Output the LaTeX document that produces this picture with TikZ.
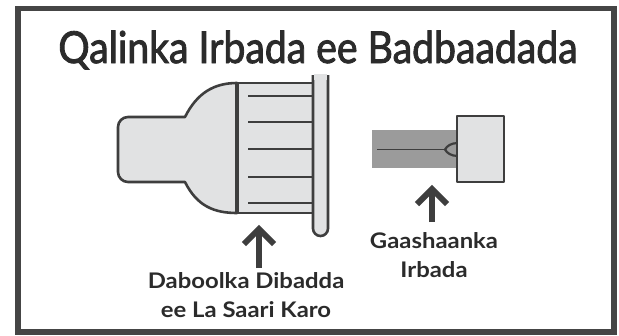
\documentclass[tikz,border=0pt]{standalone}
\usepackage{fontspec}
\setmainfont{Lato}
\usetikzlibrary{calc}
\begin{document}
\begin{tikzpicture}[x=1pt,y=-1pt,
  ink/.style={draw=inkgray,line width=2.6pt,line join=round},
  part/.style={ink,fill=partgray},
  pointer/.style={draw=inkgray,line width=6pt,line join=miter},
  caption/.style={font=\fontsize{21.5}{29}\selectfont\bfseries\addfontfeatures{FakeStretch=1.11},
    text=textgray,align=center,inner sep=0pt}]
\definecolor{inkgray}{HTML}{3E3E3E}
\definecolor{partgray}{HTML}{E1E2E3}
\definecolor{bargray}{HTML}{9B9B9B}
\definecolor{textgray}{HTML}{2B2B2B}
\definecolor{framegray}{HTML}{454545}
\useasboundingbox (0,0) rectangle (619,335);
\fill[white] (0,0) rectangle (619,335);
% outer frame
\draw[framegray,line width=5.5pt] (18,8.5) rectangle (614,332);
% title
\node[font=\fontsize{44}{50}\selectfont\addfontfeatures{FakeStretch=0.89,FakeBold=2},
  text=textgray,anchor=base,inner sep=0pt] (title) at (318,63) {Qalinka Irbada ee Badbaadada};

% cap: nozzle and flared body
\path[part] (185,117) [rounded corners=10pt] -- (118,117) -- (118,182) [sharp corners] -- (185,182)
  .. controls (197,206) and (214,213) .. (237,213) -- (237,83)
  .. controls (214,83) and (197,93) .. cycle;
% threaded collar
\path[part] (237,83) rectangle (313,213);
\draw[inkgray,line width=4pt] (237,82) -- (237,214);
\foreach \yy in {96,122,149,177,203}
  \draw[inkgray,line width=2.8pt] (248,\yy) -- (313,\yy);
% flange
\path[part] (313,75) [rounded corners=7.5pt] -- (313,236) -- (328,236) [sharp corners] -- (328,75);
\fill[partgray] (314.3,74) rectangle (326.7,80);

% needle shield
\fill[bargray] (372,130) rectangle (458,168);
\draw[inkgray,line width=1.5pt] (377,149.5) -- (446,149.5);
\draw[inkgray,line width=2.2pt] (458,143) .. controls (451,143) and (447,146) .. (445,149.5)
  .. controls (447,153) and (451,156) .. (458,156);
\node[part,minimum width=47pt,minimum height=66pt,inner sep=0pt] (shield) at (480.5,149) {};

% pointers
\coordinate (capTip) at (259,229);
\coordinate (capTail) at (259,268);
\draw[pointer] (capTail) -- (capTip);
\draw[pointer] ($(capTip)+(-15,15)$) -- (capTip) -- ($(capTip)+(15,15)$);
\coordinate (shieldTip) at (432,189);
\coordinate (shieldTail) at (432,222);
\draw[pointer] (shieldTail) -- (shieldTip);
\draw[pointer] ($(shieldTip)+(-15,15)$) -- (shieldTip) -- ($(shieldTip)+(15,15)$);

% captions (base anchor sits on the last line)
\node[caption,anchor=base] (capLabel) at (246,317) {Daboolka Dibadda\\ee La Saari Karo};
\node[caption,anchor=base] (shieldLabel) at (434,277) {Gaashaanka\\Irbada};
\end{tikzpicture}
\end{document}
